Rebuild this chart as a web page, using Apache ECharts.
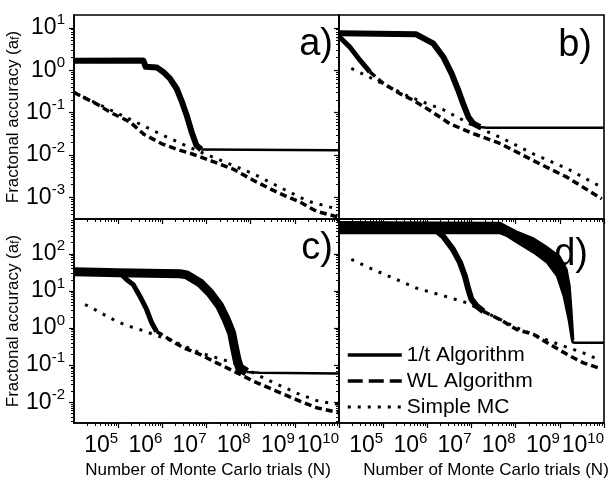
<!DOCTYPE html>
<html><head><meta charset="utf-8">
<script src="https://cdn.jsdelivr.net/npm/echarts@6/dist/echarts.min.js"></script>
<style>html,body{margin:0;padding:0;background:#fff}#c{width:615px;height:478px}</style>
</head><body><div id="c"></div>
<script>
// ---------- tick data ----------
const xTicks = [1e5, 1e6, 1e7, 1e8, 1e9, 1e10];
const yTicksTop = [1e-3, 1e-2, 1e-1, 1, 10];
const yTicksBottom = [1e-2, 1e-1, 1, 10, 100];
const minorMultipliers = [2, 3, 4, 5, 6, 7, 8, 9];
const panelLabels = ['a)', 'b)', 'c)', 'd)'];
const seriesNames = ['1/t Algorithm', 'WL Algorithm', 'Simple MC'];
const xTitle = 'Number of Monte Carlo trials (N)';
const yTitle = 'Fractonal accuracy (a{sub|f})';

// ---------- panel a ----------
const a_oneT_noisy = [[1e4,1.66],[3.7e5,1.7],[4.2e5,1.2],[7.6e5,1.15],[1.05e6,0.91],[1.48e6,0.64],[2.1e6,0.37],[2.7e6,0.195],[3.55e6,0.087],[4.6e6,0.035],[5.9e6,0.017],[7.6e6,0.0135]];
const a_oneT_flat = [[7.6e6,0.0135],[1e10,0.0129]];
const a_wl = [[1e4,0.3],[1.2e4,0.27],[3.2e4,0.162],[6.8e4,0.1],[1.86e5,0.06],[3.8e5,0.031],[9.5e5,0.0186],[2.2e6,0.0135],[4.6e6,0.0107],[1.32e7,0.0072],[4.1e7,0.0046],[1.26e8,0.0024],[4.6e8,0.00123],[1.3e9,0.00078],[3.1e9,0.00047],[1e10,0.00034]];
const a_mc = [[1.6e4,0.234],[1e5,0.095],[1.05e6,0.029],[5.9e6,0.0129],[2.3e7,0.0072],[1.15e8,0.0036],[5.5e8,0.00158],[2e9,0.00081],[1e10,0.00052]];

// ---------- panel b ----------
const b_oneT_noisy = [[1e4,7.4],[5.6e5,7.0],[1.35e6,4.3],[2.3e6,2.05],[3.55e6,0.83],[5e6,0.34],[6.5e6,0.16],[8.5e6,0.079],[1.1e7,0.055],[1.55e7,0.046]];
const b_oneT_flat = [[1.55e7,0.046],[2.2e7,0.044],[1e10,0.044]];
const b_wl_noisy = [[1e4,6.2],[1.74e4,3.55],[2.95e4,1.74],[5e4,0.91]];
const b_wl = [[5e4,0.91],[1e5,0.49],[2.4e5,0.28],[4.8e5,0.195],[1.15e6,0.112],[3.2e6,0.055],[1.1e7,0.032],[4.5e7,0.0186],[2.5e8,0.0074],[1.45e9,0.003],[8.9e9,0.00093]];
const b_mc = [[1.9e4,1.1],[8.3e4,0.52],[4e5,0.234],[2.3e6,0.117],[1e7,0.052],[4.5e7,0.026],[2.5e8,0.0107],[1.45e9,0.0048],[8.9e9,0.00174]];

// ---------- panel c ----------
const c_oneT_noisy = [[1e4,33],[1e5,31],[2.5e6,29],[3.55e6,27],[7.1e6,16.6],[1.2e7,8.9],[2e7,3.9],[2.8e7,1.7],[3.7e7,0.74],[4.4e7,0.26],[4.9e7,0.14],[5.6e7,0.085],[8.1e7,0.065]];
const c_oneT_flat = [[8.1e7,0.065],[1.6e8,0.062],[1e10,0.059]];
const c_wl_noisy = [[1e4,33],[1.1e5,31],[1.55e5,20.4],[2.2e5,14.8],[3.1e5,7.2],[4.4e5,3.16],[5.75e5,1.38],[7.4e5,0.81]];
const c_wl = [[7.4e5,0.81],[1.26e6,0.55],[2.95e6,0.295],[7.1e6,0.195],[1.7e7,0.115],[4.1e7,0.069],[1.15e8,0.037],[3.8e8,0.02],[1.3e9,0.0107],[3.1e9,0.0071],[1e10,0.0052]];
const c_mc = [[1.78e4,4.3],[3.2e4,3.0],[5.5e4,2.1],[9.3e4,1.51],[1.55e5,1.17],[3.1e5,0.91],[6.2e5,0.68],[1.78e6,0.44],[7.1e6,0.214],[4.1e7,0.115],[2.3e8,0.041],[1.3e9,0.0162],[3.4e9,0.0107],[1e10,0.0087]];

// ---------- panel d ----------
const d_oneT_upper = [[1e4,730],[4.4e7,700],[1.05e8,410],[2.5e8,270],[5e8,160],[7.1e8,117],[1e9,87],[1.45e9,38],[1.7e9,13.5],[1.86e9,3.2],[2.05e9,0.49]];
const d_oneT_lower = [[1e4,355],[4.4e7,355],[6.3e7,295],[1.05e8,200],[2.5e8,107],[5e8,58],[8.5e8,25],[1.2e9,7.2],[1.55e9,1.7],[1.86e9,0.44]];
const d_oneT_flat = [[1.86e9,0.42],[2.2e9,0.40],[1e10,0.40]];
const d_wl_noisy = [[1e4,500],[1.35e6,500],[2.3e6,295],[3.8e6,132],[5.5e6,58],[7.1e6,25],[8.5e6,11],[1e7,5.9],[1.32e7,3.9],[1.86e7,2.8]];
const d_wl = [[1.86e7,2.8],[4.4e7,1.7],[1.05e8,0.91],[2.5e8,0.68],[6e8,0.36],[1.45e9,0.195],[3.4e9,0.115],[7.4e9,0.085]];
const d_mc = [[1.9e4,71],[5.9e4,38],[1.66e5,22.4],[5.6e5,12],[1.9e6,7.9],[7.8e6,4.8],[2.2e7,2.57],[1.05e8,1.02],[6e8,0.44],[3.4e9,0.214],[7.4e9,0.141]];

// ---------- build ----------
const FONT = 'Liberation Sans, Arial, Helvetica, sans-serif';
const BLACK = '#000';
const X_RANGE = [1e4, 1e10];
const Y_RANGES = [[3.1e-4, 20], [3.1e-4, 20], [2.75e-3, 870], [2.75e-3, 870]];
const gridBoxes = [
  {left: 74, top: 15, width: 265, height: 204},
  {left: 339, top: 15, width: 265, height: 204},
  {left: 74, top: 219, width: 265, height: 204},
  {left: 339, top: 219, width: 265, height: 204}
];

function minorTicks(min, max) {
  const out = [];
  for (let k = -5; k <= 10; k++) {
    for (const m of minorMultipliers) {
      const v = m * Math.pow(10, k);
      if (v > min * 1.0001 && v < max * 0.9999) out.push(v);
    }
  }
  return out;
}
function powLabel(v) {
  const e = Math.round(Math.log10(v));
  return '{b|10}{s|' + e + '}';
}
const labelRich = {
  b: {fontSize: 23, lineHeight: 30, fontFamily: FONT, color: BLACK},
  s: {fontSize: 15, lineHeight: 15, verticalAlign: 'top', fontFamily: FONT, color: BLACK}
};

const grid = gridBoxes.map(g => Object.assign({
  show: true, borderColor: BLACK, borderWidth: 1.6, backgroundColor: 'transparent',
  containLabel: false, outerBoundsMode: 'none'
}, g));

const xAxis = [], yAxis = [];
for (let i = 0; i < 4; i++) {
  const bottomRow = i >= 2;
  const leftCol = (i % 2) === 0;
  const yr = Y_RANGES[i];
  const yMaj = bottomRow ? yTicksBottom : yTicksTop;
  xAxis.push({
    type: 'log', gridIndex: i, min: X_RANGE[0], max: X_RANGE[1], position: 'bottom', offset: 0,
    axisLine: {show: true, onZero: false, lineStyle: {color: BLACK, width: 1.6}},
    axisTick: {show: true, inside: false, length: 5, customValues: xTicks, lineStyle: {color: BLACK, width: 1.2}},
    minorTick: {show: false},
    axisLabel: {show: bottomRow, customValues: xTicks, formatter: powLabel, rich: labelRich, align: 'right', margin: 8},
    splitLine: {show: false}
  });
  xAxis.push({
    type: 'log', gridIndex: i, min: X_RANGE[0], max: X_RANGE[1], position: 'bottom', offset: 0,
    axisLine: {show: false, onZero: false},
    axisTick: {show: true, inside: false, length: 3, customValues: minorTicks(X_RANGE[0], X_RANGE[1]), lineStyle: {color: BLACK, width: 1}},
    axisLabel: {show: false}, splitLine: {show: false}
  });
  const yMain = {
    type: 'log', gridIndex: i, min: yr[0], max: yr[1], position: 'left', offset: 0,
    axisLine: {show: true, onZero: false, lineStyle: {color: BLACK, width: 1.6}},
    axisTick: {show: true, inside: false, length: 5, customValues: yMaj, lineStyle: {color: BLACK, width: 1.2}},
    minorTick: {show: false},
    axisLabel: {show: leftCol, customValues: yMaj, formatter: powLabel, rich: labelRich, margin: 9},
    splitLine: {show: false}
  };
  if (leftCol) {
    Object.assign(yMain, {
      name: yTitle, nameLocation: 'middle', nameRotate: 90, nameGap: 46,
      nameTextStyle: {fontSize: 17, fontFamily: FONT, color: BLACK,
        rich: {sub: {fontSize: 12, verticalAlign: 'bottom', fontFamily: FONT, color: BLACK}}}
    });
  }
  yAxis.push(yMain);
  yAxis.push({
    type: 'log', gridIndex: i, min: yr[0], max: yr[1], position: 'left', offset: 0,
    axisLine: {show: false, onZero: false},
    axisTick: {show: true, inside: false, length: 3, customValues: minorTicks(yr[0], yr[1]), lineStyle: {color: BLACK, width: 1}},
    axisLabel: {show: false}, splitLine: {show: false}
  });
}

const styles = {
  solid: {color: BLACK, width: 2.5, type: 'solid'},
  dashed: {color: BLACK, width: 3.5, type: [7, 4]},
  dotted: {color: BLACK, width: 3, type: [3, 7]}
};
function line(gi, name, data, lineStyle) {
  return {
    type: 'line', name: name, xAxisIndex: gi * 2, yAxisIndex: gi * 2, data: data,
    symbol: 'none', showSymbol: false, smooth: false, silent: true, animation: false,
    itemStyle: {color: BLACK}, lineStyle: lineStyle, clip: true
  };
}
function noisy(w) { return {color: BLACK, width: w, type: 'solid', join: 'round'}; }

const series = [
  line(0, seriesNames[0], a_oneT_flat, styles.solid),
  line(0, seriesNames[1], a_wl, styles.dashed),
  line(0, seriesNames[2], a_mc, styles.dotted),
  line(0, 'a noisy', a_oneT_noisy, noisy(6)),

  line(1, seriesNames[0], b_oneT_flat, styles.solid),
  line(1, 'b noisy', b_oneT_noisy, noisy(6)),
  line(1, 'b wl noisy', b_wl_noisy, noisy(5)),
  line(1, seriesNames[1], b_wl, styles.dashed),
  line(1, seriesNames[2], b_mc, styles.dotted),

  line(2, seriesNames[0], c_oneT_flat, styles.solid),
  line(2, 'c noisy', c_oneT_noisy, noisy(9)),
  line(2, 'c wl noisy', c_wl_noisy, noisy(5)),
  line(2, seriesNames[1], c_wl, styles.dashed),
  line(2, seriesNames[2], c_mc, styles.dotted),

  line(3, seriesNames[0], d_oneT_flat, styles.solid),
  line(3, 'd wl noisy', d_wl_noisy, noisy(6)),
  line(3, seriesNames[1], d_wl, styles.dashed),
  line(3, seriesNames[2], d_mc, styles.dotted),
  {
    type: 'custom', name: 'd band', xAxisIndex: 6, yAxisIndex: 6, data: [[1e6, 10]],
    silent: true, animation: false, clip: true,
    renderItem: function (params, api) {
      const pts = d_oneT_upper.map(p => api.coord(p))
        .concat(d_oneT_lower.slice().reverse().map(p => api.coord(p)));
      return {type: 'polygon', shape: {points: pts}, style: {fill: BLACK, stroke: BLACK, lineWidth: 1.5, lineJoin: 'round'}};
    }
  }
];

const labelPos = [[333, 45], [592, 46], [333, 249], [588, 255]];
const graphic = panelLabels.map((t, i) => ({
  type: 'text', x: labelPos[i][0], y: labelPos[i][1], silent: true,
  style: {text: t, fill: BLACK, font: '38px ' + FONT, align: 'right', verticalAlign: 'middle'}
}));
[[208, 470], [486, 470]].forEach(p => graphic.push({
  type: 'text', x: p[0], y: p[1], silent: true,
  style: {text: xTitle, fill: BLACK, font: '17px ' + FONT, align: 'center', verticalAlign: 'middle'}
}));

const hiddenSymbol = {opacity: 0, borderWidth: 0, color: 'rgba(0,0,0,0)'};
const option = {
  backgroundColor: '#fff',
  animation: false,
  grid: grid, xAxis: xAxis, yAxis: yAxis, series: series, graphic: graphic,
  legend: {
    left: 346, top: 344, orient: 'vertical', padding: 0, itemWidth: 54, itemHeight: 14, itemGap: 4,
    selectedMode: false, textStyle: {fontSize: 21, fontFamily: FONT, color: BLACK, lineHeight: 22},
    itemStyle: hiddenSymbol,
    data: [
      {name: seriesNames[0], itemStyle: hiddenSymbol, lineStyle: {width: 3.5, type: 'solid', color: BLACK}},
      {name: seriesNames[1], itemStyle: hiddenSymbol, lineStyle: {width: 3.5, type: [15, 6], color: BLACK}},
      {name: seriesNames[2], itemStyle: hiddenSymbol, lineStyle: {width: 3, type: [3, 7], color: BLACK}}
    ]
  }
};
const chart = echarts.init(document.getElementById('c'));
chart.setOption(option);
</script></body></html>
